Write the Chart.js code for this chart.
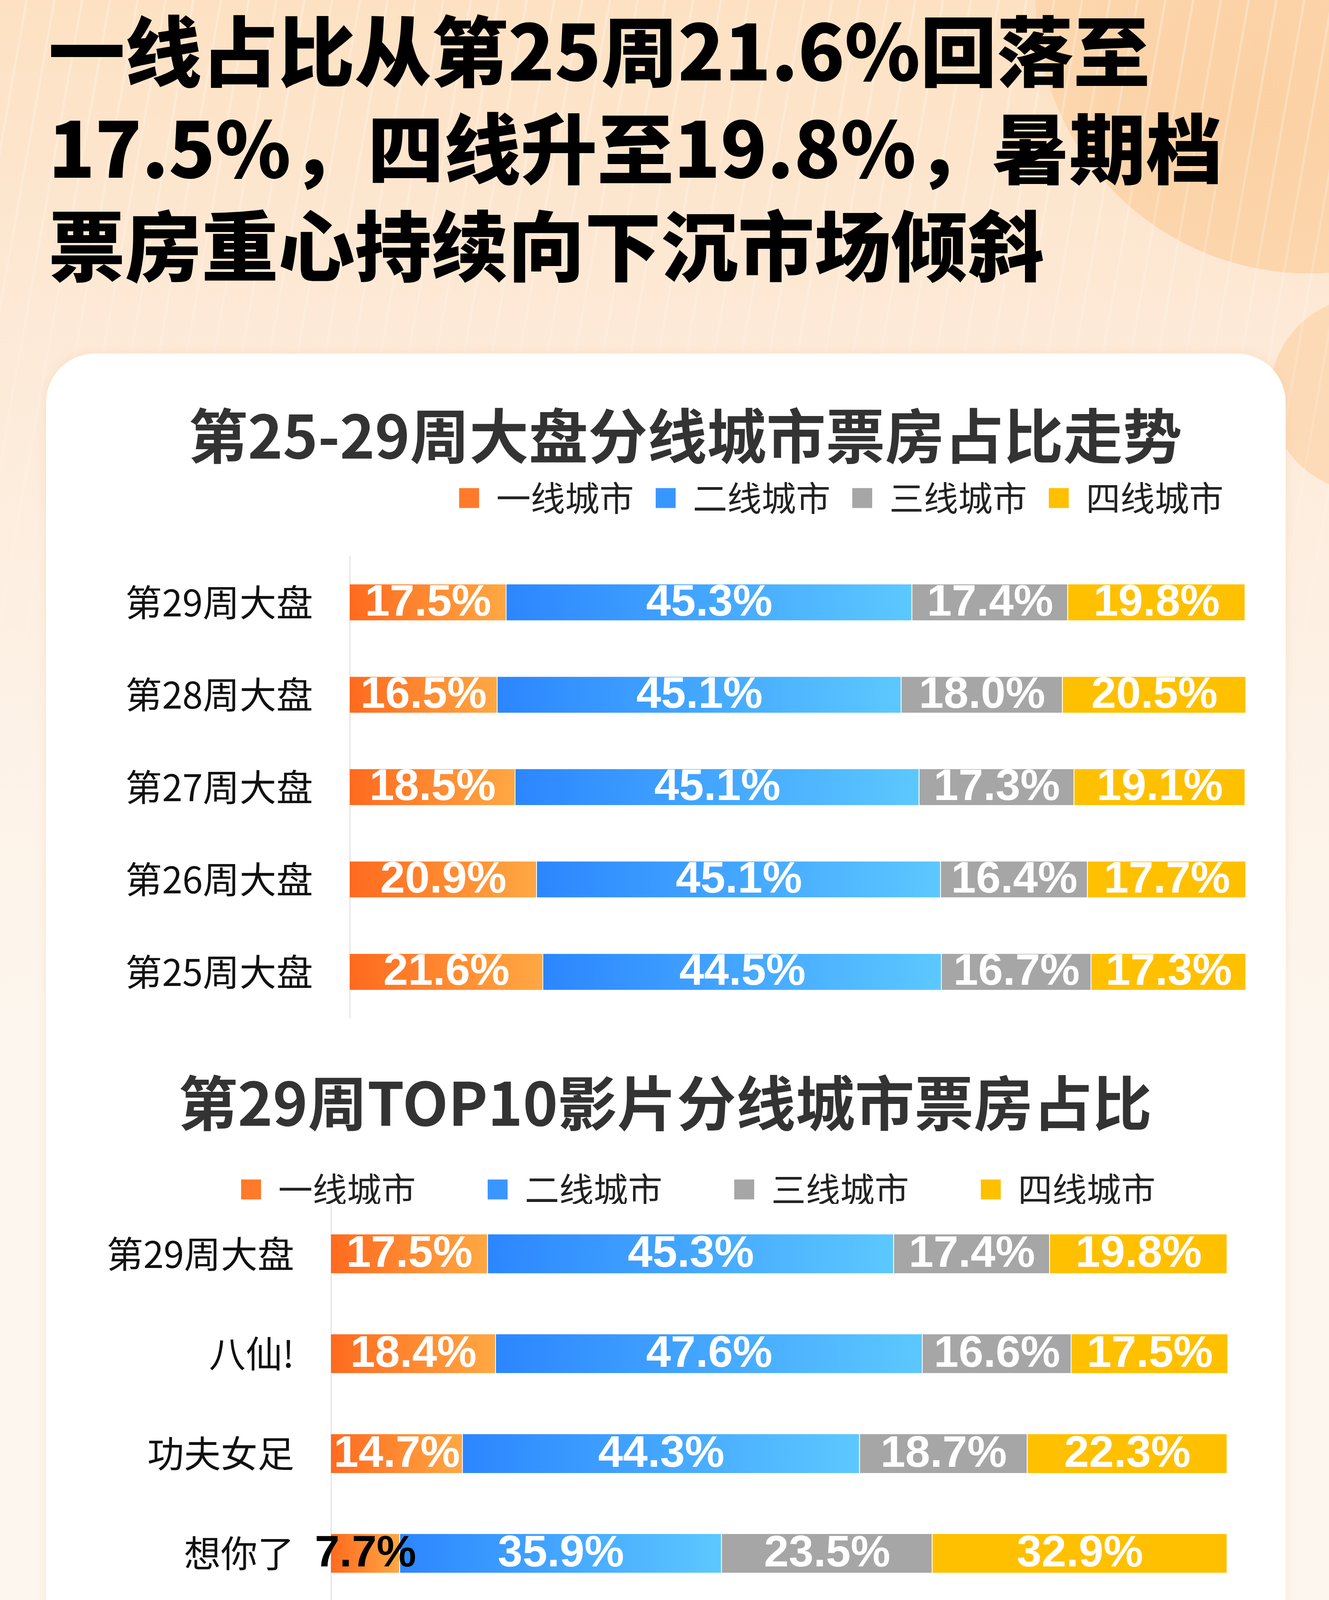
<!DOCTYPE html>
<html lang="zh-CN">
<head>
<meta charset="utf-8">
<title>分线城市票房占比</title>
<script src="https://cdn.jsdelivr.net/npm/chart.js@4.4.1/dist/chart.umd.min.js"></script>
<style>
html,body{margin:0;padding:0;}
body{
  width:3401px;height:6429px;position:relative;overflow:hidden;
  font-family:"Noto Sans CJK SC","Noto Sans",sans-serif;
  background:linear-gradient(180deg,#fde1c2 0px,#fde9d6 800px,#fdf1e5 1700px,#fdf6ee 2600px,#fdf6ee 100%);
}
#blob1{position:absolute;left:2650px;top:-700px;width:1400px;height:1400px;border-radius:50%;
  background:radial-gradient(circle at 40% 70%,#fbcd9c 0%,#fcd6ad 55%,#fddcb8 100%);opacity:.85;}
#blob2{position:absolute;left:3250px;top:760px;width:500px;height:500px;border-radius:50%;
  background:#fcd3a8;opacity:.7;}
#stripes{position:absolute;left:0;top:0;width:3401px;height:2200px;
  background:repeating-linear-gradient(100deg,rgba(255,255,255,0) 0px,rgba(255,255,255,0) 64px,rgba(255,255,255,.28) 64px,rgba(255,255,255,.28) 70px);
  -webkit-mask-image:linear-gradient(180deg,#000 0%,rgba(0,0,0,.6) 40%,transparent 100%);
  mask-image:linear-gradient(180deg,#000 0%,rgba(0,0,0,.6) 40%,transparent 100%);}
#headline{position:absolute;left:124px;top:-4px;font-size:196px;line-height:249px;font-weight:900;color:#000;white-space:nowrap;}
#card{position:absolute;left:118px;top:905px;width:3172px;height:5010px;background:#fff;border-radius:125px;
  box-shadow:0 0 24px rgba(235,190,140,.25);}
canvas{position:absolute;}
#c1{left:320px;top:1000px;}
#c2{left:100px;top:2700px;}
.foot{position:absolute;left:128px;font-size:102px;line-height:102px;color:#555;white-space:nowrap;}
#logoIcon{position:absolute;left:1301px;top:6148px;width:174px;height:179px;}
#logoText{position:absolute;left:1527px;top:6166px;font-size:115px;line-height:115px;font-weight:700;color:#ff6a1f;white-space:nowrap;}
</style>
</head>
<body>
<div id="blob1"></div>
<div id="blob2"></div>
<div id="stripes"></div>
<div id="headline">一线占比从第25周21.6%回落至<br>17.5%，四线升至19.8%，暑期档<br>票房重心持续向下沉市场倾斜</div>
<div id="card"></div>
<canvas id="c1" width="2867" height="1653"></canvas>
<canvas id="c2" width="3041" height="3241"></canvas>
<div class="foot" style="top:6104px;">统计截至时间</div>
<div class="foot" style="top:6288px;">2026年7月27日</div>
<svg id="logoIcon" viewBox="0 0 174 179">
  <rect x="0" y="0" width="174" height="179" rx="42" ry="42" fill="#ff6a1f"/>
  <path d="M87 22 L99 48 L99 70 L104 70 L104 179 L62 179 L62 70 L75 70 L75 48 Z" fill="#ffffff"/>
  <circle cx="87" cy="58" r="7" fill="#ff6a1f"/>
  <path d="M62 150 L104 112 L104 132 L62 170 Z" fill="#ffb08a"/>
  <rect x="62" y="88" width="42" height="6" fill="#ff6a1f"/>
</svg>
<div id="logoText">灯塔专业版</div>

<script>
// ---------------- data ----------------
const seriesNames = ['一线城市', '二线城市', '三线城市', '四线城市'];

const chart1Title = '第25-29周大盘分线城市票房占比走势';
const weekLabels = ['第29周大盘', '第28周大盘', '第27周大盘', '第26周大盘', '第25周大盘'];
const weekTier1 = [17.5, 16.5, 18.5, 20.9, 21.6];
const weekTier2 = [45.3, 45.1, 45.1, 45.1, 44.5];
const weekTier3 = [17.4, 18.0, 17.3, 16.4, 16.7];
const weekTier4 = [19.8, 20.5, 19.1, 17.7, 17.3];

const chart2Title = '第29周TOP10影片分线城市票房占比';
const filmLabels = ['第29周大盘', '八仙!', '功夫女足', '想你了', '群星闪耀时', '痴迷', '小黄人与大...', '恐怖游轮', '三国第一部：...', '四渡', '会不能停2！'];
const filmTier1 = [17.5, 18.4, 14.7, 7.7, 21.6, 20.9, 20.9, 18.2, 28.9, 32.2, 45.1];
const filmTier2 = [45.3, 47.6, 44.3, 35.9, 48.5, 44.5, 43.0, 41.9, 45.8, 39.7, 54.9];
const filmTier3 = [17.4, 16.6, 18.7, 23.5, 14.8, 16.2, 17.2, 18.4, 13.6, 11.9, null];
const filmTier4 = [19.8, 17.5, 22.3, 32.9, 15.0, 18.4, 18.9, 21.5, 11.8, 16.1, null];

// ---------------- styles ----------------
const TIER_STYLE = [
  {from: '#ff6a1f', to: '#ffa843', solid: '#ff7a2a'},
  {from: '#2c86ff', to: '#5cc8ff', solid: '#3a96ff'},
  {from: '#a6a6a6', to: '#a6a6a6', solid: '#a6a6a6'},
  {from: '#ffc000', to: '#ffc000', solid: '#ffc000'}
];
const CJK = '"Noto Sans CJK SC", "Noto Sans", sans-serif';

function segFill(tier) {
  return function (ctx) {
    const st = TIER_STYLE[tier];
    if (ctx.type !== 'data' || st.from === st.to) return st.solid;
    const chart = ctx.chart;
    const xs = chart.scales && chart.scales.x;
    if (!xs || !chart.chartArea) return st.solid;
    const dsets = chart.data.datasets;
    let start = 0;
    for (let d = 0; d < ctx.datasetIndex; d++) {
      const pv = dsets[d].data[ctx.dataIndex];
      if (pv) start += pv;
    }
    const v = dsets[ctx.datasetIndex].data[ctx.dataIndex] || 0;
    const x0 = xs.getPixelForValue(start);
    const x1 = xs.getPixelForValue(start + v);
    if (!isFinite(x0) || !isFinite(x1) || x1 <= x0) return st.solid;
    const g = chart.ctx.createLinearGradient(x0, 0, x1, 0);
    g.addColorStop(0, st.from);
    g.addColorStop(1, st.to);
    return g;
  };
}

function makeDatasets(values) {
  return values.map((arr, i) => ({
    label: seriesNames[i],
    data: arr,
    backgroundColor: segFill(i),
    borderColor: 'rgba(255,255,255,0.9)',
    borderWidth: {top: 0, bottom: 0, left: 0, right: 2},
    borderSkipped: false,
    barPercentage: 0.39,
    categoryPercentage: 1
  }));
}

function legendLabels(chart) {
  const items = Chart.defaults.plugins.legend.labels.generateLabels(chart);
  items.forEach(it => {
    const c = TIER_STYLE[it.datasetIndex].solid;
    it.fillStyle = c;
    it.strokeStyle = c;
    it.lineWidth = 0;
  });
  return items;
}

const barLabels = {
  id: 'barLabels',
  afterDatasetsDraw(chart) {
    const ctx = chart.ctx;
    ctx.save();
    ctx.font = 'bold 114px "Liberation Sans", Arial, sans-serif';
    ctx.textAlign = 'center';
    ctx.textBaseline = 'middle';
    chart.data.datasets.forEach((ds, di) => {
      const meta = chart.getDatasetMeta(di);
      if (meta.hidden) return;
      meta.data.forEach((bar, i) => {
        const v = ds.data[i];
        if (v == null || v === 0) return;
        const p = bar.getProps(['x', 'base', 'y'], true);
        ctx.fillStyle = v < 10 ? '#000000' : '#ffffff';
        ctx.fillText(v.toFixed(1) + '%', (p.x + p.base) / 2, p.y + 2);
      });
    });
    ctx.restore();
  }
};

function makeOptions(cfg) {
  const xScale = cfg.spacer
    ? {display: true, position: 'top', stacked: true, min: 0, max: 100,
       ticks: {display: false}, grid: {display: false, drawTicks: false}, border: {display: false},
       afterFit(scale) { scale.height = cfg.spacer; }}
    : {display: false, stacked: true, min: 0, max: 100};
  const legend = {
    display: true,
    position: 'top',
    align: 'end',
    labels: {
      boxWidth: 51,
      boxHeight: 51,
      padding: cfg.legendGap,
      color: '#222222',
      font: {family: CJK, size: 88},
      generateLabels: legendLabels
    }
  };
  if (cfg.legendHeight) legend.maxHeight = cfg.legendHeight;
  return {
    indexAxis: 'y',
    responsive: false,
    animation: false,
    events: [],
    layout: {padding: {left: cfg.padLeft, right: 0, top: 0, bottom: 0}},
    scales: {
      x: xScale,
      y: {
        stacked: true,
        grid: {display: false, drawTicks: true, tickLength: 94},
        border: {display: true, color: '#e4e4e4', width: 3},
        ticks: {padding: 0, color: '#111111', font: {family: CJK, size: 94, lineHeight: 1}},
        afterFit(scale) { scale.width = cfg.axisWidth; }
      }
    },
    plugins: {
      title: {
        display: true,
        text: cfg.title,
        color: '#333333',
        font: {family: CJK, size: 152, weight: 'bold', lineHeight: 1},
        padding: {top: cfg.titleTop, bottom: cfg.titleBottom}
      },
      legend: legend,
      tooltip: {enabled: false}
    }
  };
}

new Chart(document.getElementById('c1'), {
  type: 'bar',
  data: {labels: weekLabels, datasets: makeDatasets([weekTier1, weekTier2, weekTier3, weekTier4])},
  options: makeOptions({padLeft: 0, axisWidth: 575, title: chart1Title, titleTop: 40, titleBottom: -17, legendGap: 56, spacer: 95}),
  plugins: [barLabels]
});

new Chart(document.getElementById('c2'), {
  type: 'bar',
  data: {labels: filmLabels, datasets: makeDatasets([filmTier1, filmTier2, filmTier3, filmTier4])},
  options: makeOptions({padLeft: 163, axisWidth: 584, title: chart2Title, titleTop: 48, titleBottom: -83, legendHeight: 265, legendGap: 184}),
  plugins: [barLabels]
});
</script>
</body>
</html>
